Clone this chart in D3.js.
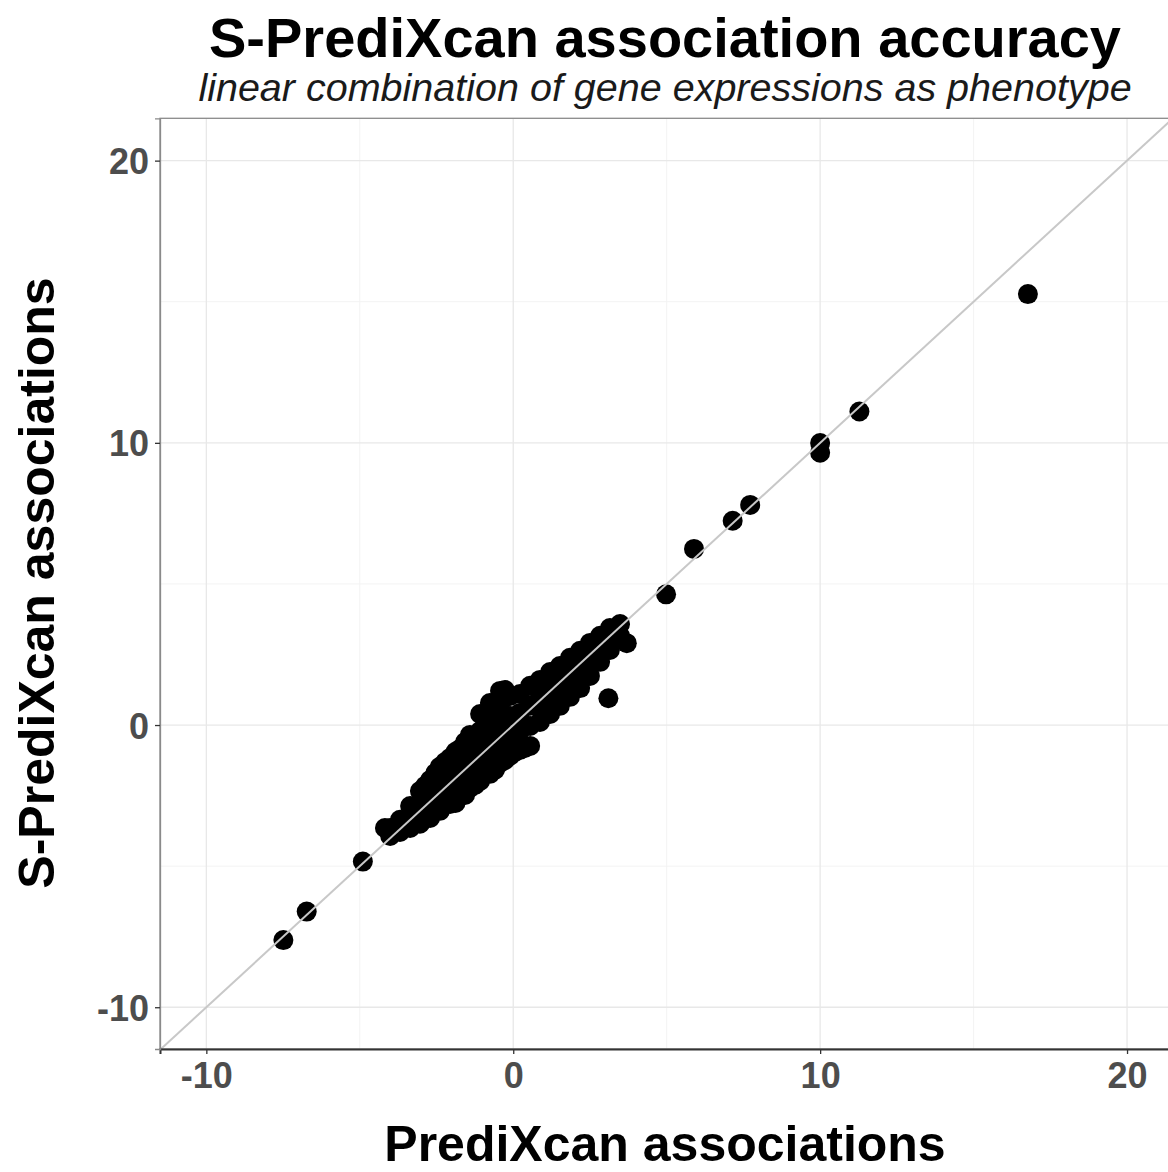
<!DOCTYPE html>
<html>
<head>
<meta charset="utf-8">
<script src="https://cdn.jsdelivr.net/npm/d3@7"></script>
<style>
  body { margin: 0; background: #fff; }
  svg { display: block; font-family: 'Liberation Sans', Arial, sans-serif; }
</style>
</head>
<body>
<div id="content"></div>
<script>
// Axis ticks
const xTicks = [-10, 0, 10, 20];
const yTicks = [-10, 0, 10, 20];
const minorTicks = [-5, 5, 15];

// Main cloud of genes: [PrediXcan, S-PrediXcan]
const clusterPoints = [
  [-4.18, -3.65],
  [-4.01, -3.65], [-4.01, -3.93],
  [-3.69, -3.36], [-3.69, -3.79],
  [-3.36, -2.87], [-3.36, -3.26], [-3.36, -3.65],
  [-3.04, -2.34], [-3.04, -2.73], [-3.04, -3.11], [-3.04, -3.50],
  [-2.87, -2.15],
  [-2.71, -1.95], [-2.71, -2.37], [-2.71, -2.83], [-2.71, -3.29],
  [-2.54, -1.70],
  [-2.39, -1.48], [-2.39, -2.02], [-2.39, -2.51], [-2.39, -3.04],
  [-2.22, -1.31],
  [-2.06, -1.17], [-2.06, -1.70], [-2.06, -2.26], [-2.06, -2.80],
  [-1.88, -0.95], [-1.88, -2.76],
  [-1.74, -0.85], [-1.74, -1.41], [-1.74, -1.95], [-1.74, -2.51],
  [-1.57, -0.60], [-1.57, -2.48],
  [-1.41, -0.35], [-1.41, -0.99], [-1.41, -1.59], [-1.41, -2.23],
  [-1.24, -2.12],
  [-1.08, 0.39], [-1.08, -0.21], [-1.08, -0.81], [-1.08, -1.38], [-1.08, -1.98],
  [-0.76, 0.78], [-0.76, 0.15], [-0.76, -0.46], [-0.76, -1.09], [-0.76, -1.73],
  [-0.59, -1.58],
  [-0.43, 1.21], [-0.43, 0.57], [-0.43, -0.07], [-0.43, -0.71], [-0.43, -1.34],
  [-0.27, 1.24], [-0.27, -1.24],
  [-0.10, 1.03], [-0.10, 0.32], [-0.10, -0.39], [-0.10, -1.09],
  [0.06, -0.95],
  [0.22, 1.10], [0.22, 0.43], [0.22, -0.21], [0.22, -0.88],
  [0.38, -0.81],
  [0.55, 1.39], [0.55, 0.68], [0.55, -0.03], [0.55, -0.74],
  [0.87, 1.60], [0.87, 1.10], [0.87, 0.61], [0.87, 0.11],
  [1.20, 1.88], [1.20, 1.39], [1.20, 0.89], [1.20, 0.39],
  [1.52, 2.09], [1.52, 1.60], [1.52, 1.14], [1.52, 0.68],
  [1.85, 2.38], [1.85, 1.92], [1.85, 1.46], [1.85, 1.00],
  [2.18, 2.63], [2.18, 2.20], [2.18, 1.74], [2.18, 1.31],
  [2.50, 2.91], [2.50, 2.52], [2.50, 2.13], [2.50, 1.74],
  [2.83, 3.16], [2.83, 2.70], [2.83, 2.24],
  [3.15, 3.44], [3.15, 3.05], [3.15, 2.66],
  [3.48, 3.58], [3.48, 3.16],
  [3.70, 2.90]
];

// Isolated genes
const outlierPoints = [
  [3.10, 0.95], [4.98, 4.63], [5.89, 6.24], [7.15, 7.24], [7.72, 7.80],
  [10.0, 9.99], [10.0, 9.65], [11.28, 11.11], [16.77, 15.27],
  [-4.90, -4.84], [-6.73, -6.61], [-7.49, -7.62]
];

const xDomain = [-11.51, 21.40];
const yDomain = [-11.48, 21.50];

let margin = {top: 118.3, left: 160};
let width = 1010;
let height = 930.7;

let svg = d3.select('#content')
            .append('svg')
            .attr('width', 1168)
            .attr('height', 1172);

let g = svg.append('g')
           .attr('transform', 'translate(' + margin.left + ',' + margin.top + ')');

let x = d3.scaleLinear().domain(xDomain).range([0, width]);
let y = d3.scaleLinear().domain(yDomain).range([height, 0]);

svg.append('defs').append('clipPath')
   .attr('id', 'panel')
   .append('rect')
   .attr('width', width)
   .attr('height', height);

let panel = g.append('g').attr('clip-path', 'url(#panel)');

// Grid
panel.selectAll('.minor-x').data(minorTicks).enter().append('line')
     .attr('x1', (d) => x(d)).attr('x2', (d) => x(d))
     .attr('y1', 0).attr('y2', height)
     .attr('stroke', '#f3f3f3').attr('stroke-width', 1);
panel.selectAll('.minor-y').data(minorTicks).enter().append('line')
     .attr('y1', (d) => y(d)).attr('y2', (d) => y(d))
     .attr('x1', 0).attr('x2', width)
     .attr('stroke', '#f3f3f3').attr('stroke-width', 1);
panel.selectAll('.major-x').data(xTicks).enter().append('line')
     .attr('x1', (d) => x(d)).attr('x2', (d) => x(d))
     .attr('y1', 0).attr('y2', height)
     .attr('stroke', '#e8e8e8').attr('stroke-width', 1.3);
panel.selectAll('.major-y').data(yTicks).enter().append('line')
     .attr('y1', (d) => y(d)).attr('y2', (d) => y(d))
     .attr('x1', 0).attr('x2', width)
     .attr('stroke', '#e8e8e8').attr('stroke-width', 1.3);

// Points
panel.selectAll('.dot')
     .data(clusterPoints.concat(outlierPoints))
     .enter()
     .append('circle')
     .attr('r', 10)
     .attr('cx', (d) => x(d[0]))
     .attr('cy', (d) => y(d[1]))
     .attr('fill', '#000');

// Identity line
panel.append('line')
     .attr('x1', x(-20)).attr('y1', y(-20))
     .attr('x2', x(30)).attr('y2', y(30))
     .attr('stroke', '#c8c8c8')
     .attr('stroke-width', 2);

// Panel border
g.append('rect')
 .attr('width', width)
 .attr('height', height)
 .attr('fill', 'none')
 .attr('stroke', '#8a8a8a')
 .attr('stroke-width', 1.3);

// Axes
let fmt = (d) => String(d);
let xAxis = g.append('g')
             .attr('transform', 'translate(0,' + height + ')')
             .call(d3.axisBottom(x).tickValues(xTicks).tickFormat(fmt).tickSize(5).tickPadding(8));
let yAxis = g.append('g')
             .call(d3.axisLeft(y).tickValues(yTicks).tickFormat(fmt).tickSize(5).tickPadding(6));

[xAxis, yAxis].forEach((a) => {
  a.select('.domain').attr('stroke', '#333').attr('stroke-width', 2);
  a.selectAll('.tick line').attr('stroke', '#333').attr('stroke-width', 1.3);
  a.selectAll('.tick text')
   .attr('fill', '#4d4d4d')
   .style('font-family', "'Liberation Sans', Arial, sans-serif")
   .style('font-size', '36px')
   .style('font-weight', 'bold');
});
yAxis.select('.domain').attr('stroke', '#8a8a8a').attr('stroke-width', 1.3);
xAxis.selectAll('.tick text').attr('dy', '0.72em');
yAxis.selectAll('.tick text').attr('dy', '0.36em');

// Titles
svg.append('text')
   .attr('x', 665).attr('y', 57)
   .attr('text-anchor', 'middle')
   .style('font-size', '56px').style('font-weight', 'bold')
   .text('S-PrediXcan association accuracy');

svg.append('text')
   .attr('x', 665).attr('y', 101)
   .attr('text-anchor', 'middle')
   .style('font-size', '39.5px').style('font-style', 'italic')
   .attr('fill', '#1a1a1a')
   .text('linear combination of gene expressions as phenotype');

svg.append('text')
   .attr('x', 665).attr('y', 1161)
   .attr('text-anchor', 'middle')
   .style('font-size', '50px').style('font-weight', 'bold')
   .text('PrediXcan associations');

svg.append('text')
   .attr('transform', 'translate(54,583) rotate(-90)')
   .attr('text-anchor', 'middle')
   .style('font-size', '50px').style('font-weight', 'bold')
   .text('S-PrediXcan associations');
</script>
</body>
</html>
